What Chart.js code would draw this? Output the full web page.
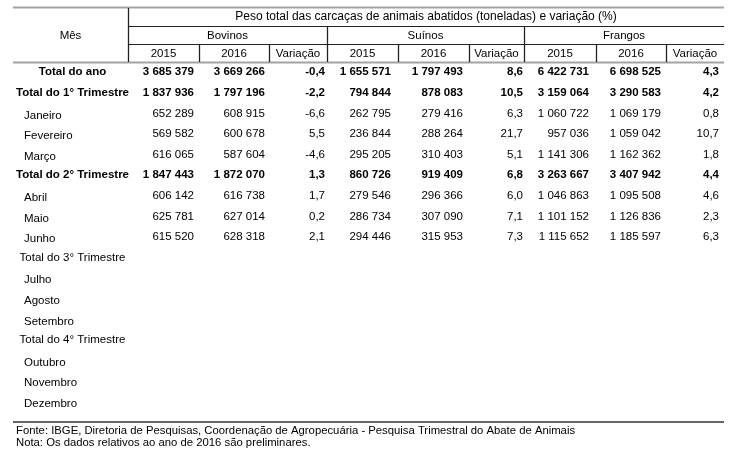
<!DOCTYPE html>
<html>
<head>
<meta charset="utf-8">
<script src="https://cdn.jsdelivr.net/npm/chart.js@4"></script>
<style>
  body { margin: 0; background: #fff; }
  #wrap { width: 736px; height: 459px; }
</style>
</head>
<body>
<div id="wrap"><canvas id="chart"></canvas></div>
<script>
const title = "Peso total das carcaças de animais abatidos (toneladas) e variação (%)";
const groups = ["Bovinos", "Suínos", "Frangos"];
const subCols = ["2015", "2016", "Variação"];
const rows = [
  "Total do ano", "Total do 1° Trimestre", "Janeiro", "Fevereiro", "Março",
  "Total do 2° Trimestre", "Abril", "Maio", "Junho",
  "Total do 3° Trimestre", "Julho", "Agosto", "Setembro",
  "Total do 4° Trimestre", "Outubro", "Novembro", "Dezembro",
];
const bovinos2015 = [3685379, 1837936, 652289, 569582, 616065, 1847443, 606142, 625781, 615520];
const bovinos2016 = [3669266, 1797196, 608915, 600678, 587604, 1872070, 616738, 627014, 628318];
const bovinosVar = [-0.4, -2.2, -6.6, 5.5, -4.6, 1.3, 1.7, 0.2, 2.1];
const suinos2015 = [1655571, 794844, 262795, 236844, 295205, 860726, 279546, 286734, 294446];
const suinos2016 = [1797493, 878083, 279416, 288264, 310403, 919409, 296366, 307090, 315953];
const suinosVar = [8.6, 10.5, 6.3, 21.7, 5.1, 6.8, 6.0, 7.1, 7.3];
const frangos2015 = [6422731, 3159064, 1060722, 957036, 1141306, 3263667, 1046863, 1101152, 1115652];
const frangos2016 = [6698525, 3290583, 1069179, 1059042, 1162362, 3407942, 1095508, 1126836, 1185597];
const frangosVar = [4.3, 4.2, 0.8, 10.7, 1.8, 4.4, 4.6, 2.3, 6.3];
const fonte = "Fonte: IBGE, Diretoria de Pesquisas, Coordenação de Agropecuária - Pesquisa Trimestral do Abate de Animais";
const nota = "Nota: Os dados relativos ao ano de 2016 são preliminares.";

// table layout (x-scale units): column widths and where each value column's text ends
const colWidths = [115, 71, 70, 58, 71, 71, 55, 72, 70, 58];
const textRight = [181, 252, 312, 378, 450, 510, 576, 648, 706];
const colEdges = colWidths.reduce((a, w) => a.concat(a[a.length - 1] + w), [0]);

const series = [bovinos2015, bovinos2016, bovinosVar, suinos2015, suinos2016, suinosVar, frangos2015, frangos2016, frangosVar];
const FONT = "'Liberation Sans', Arial, sans-serif";
const fmtInt = n => String(n).replace(/\B(?=(\d{3})+(?!\d))/g, " ");
const fmtVar = v => v.toFixed(1).replace(".", ",");
const isTotal = r => rows[r].startsWith("Total");
const isBold = r => isTotal(r) && bovinos2015[r] != null;

const tablePlugin = {
  id: "table",
  afterDraw(chart) {
    const ctx = chart.ctx, xs = chart.scales.x, ys = chart.scales.y, area = chart.chartArea;
    const px = v => xs.getPixelForValue(v);
    const top = area.top;
    const line = (x0, y0, x1, y1, color, w) => {
      ctx.strokeStyle = color; ctx.lineWidth = w;
      ctx.beginPath(); ctx.moveTo(x0, y0); ctx.lineTo(x1, y1); ctx.stroke();
    };
    const text = (s, x, y, align, bold, size) => {
      ctx.font = (bold ? "bold " : "") + (size || 11.5) + "px " + FONT;
      ctx.textAlign = align; ctx.textBaseline = "middle"; ctx.fillStyle = "#000";
      ctx.fillText(s, x, y);
    };
    ctx.save();
    const L = px(colEdges[0]), R = px(colEdges[colEdges.length - 1]);
    // header rules
    line(L, top - 54.5, R, top - 54.5, "#a3a3a3", 2);
    line(px(colEdges[1]), top - 35.5, R, top - 35.5, "#222", 1);
    line(px(colEdges[1]), top - 17.5, R, top - 17.5, "#222", 1);
    line(L, top + 0.5, R, top + 0.5, "#a3a3a3", 2);
    line(px(colEdges[1]) + 0.5, top - 54, px(colEdges[1]) + 0.5, top, "#222", 1.3);
    for (let c = 2; c < colEdges.length - 1; c++) {
      const y0 = (c - 1) % 3 === 0 ? top - 35 : top - 17;
      line(px(colEdges[c]) + 0.5, y0, px(colEdges[c]) + 0.5, top, "#222", 1.3);
    }
    // header text
    text("Mês", (px(colEdges[0]) + px(colEdges[1])) / 2, top - 26.5, "center");
    text(title, (px(colEdges[1]) + R) / 2, top - 45, "center", false, 12);
    groups.forEach((g, i) => {
      text(g, (px(colEdges[1 + i * 3]) + px(colEdges[4 + i * 3])) / 2, top - 26, "center");
      subCols.forEach((s, j) => {
        const c = 1 + i * 3 + j;
        text(s, (px(colEdges[c]) + px(colEdges[c + 1])) / 2, top - 8, "center");
      });
    });
    // row labels
    rows.forEach((r, i) => {
      const y = ys.getPixelForValue(i);
      if (isTotal(i)) text(r, (px(colEdges[0]) + px(colEdges[1])) / 2 + 2, y, "center", isBold(i));
      else text(r, px(colEdges[0]) + 11, y + 2, "left");
    });
    // cell values, placed by the library
    chart.data.datasets.forEach((ds, d) => {
      chart.getDatasetMeta(d).data.forEach((pt, j) => {
        const v = ds.data[j];
        const s = d % 3 === 2 ? fmtVar(v.v) : fmtInt(v.v);
        text(s, pt.x, pt.y, "right", isBold(v.row));
      });
    });
    // footnotes
    line(L, area.bottom + 10, R, area.bottom + 10, "#333", 1.5);
    text(fonte, L + 3, area.bottom + 18.5, "left", false, 11.3);
    text(nota, L + 3, area.bottom + 31, "left", false, 11.3);
    ctx.restore();
  },
};

const config = {
  type: "scatter",
  data: {
    datasets: series.map((vals, c) => ({
      data: vals.map((v, r) => ({ x: textRight[c], y: rows[r], v: v, row: r })),
      pointRadius: 0,
    })),
  },
  options: {
    responsive: true,
    maintainAspectRatio: false,
    animation: false,
    events: [],
    layout: { padding: { top: 62, left: 13, right: 12, bottom: 47 } },
    scales: {
      x: { type: "linear", min: 0, max: colEdges[colEdges.length - 1], display: false },
      y: { type: "category", labels: rows, offset: true, display: false },
    },
    plugins: { legend: { display: false }, tooltip: { enabled: false } },
  },
  plugins: [tablePlugin],
};

window.onload = function () {
  window.myTable = new Chart(document.getElementById("chart"), config);
};
</script>
</body>
</html>
